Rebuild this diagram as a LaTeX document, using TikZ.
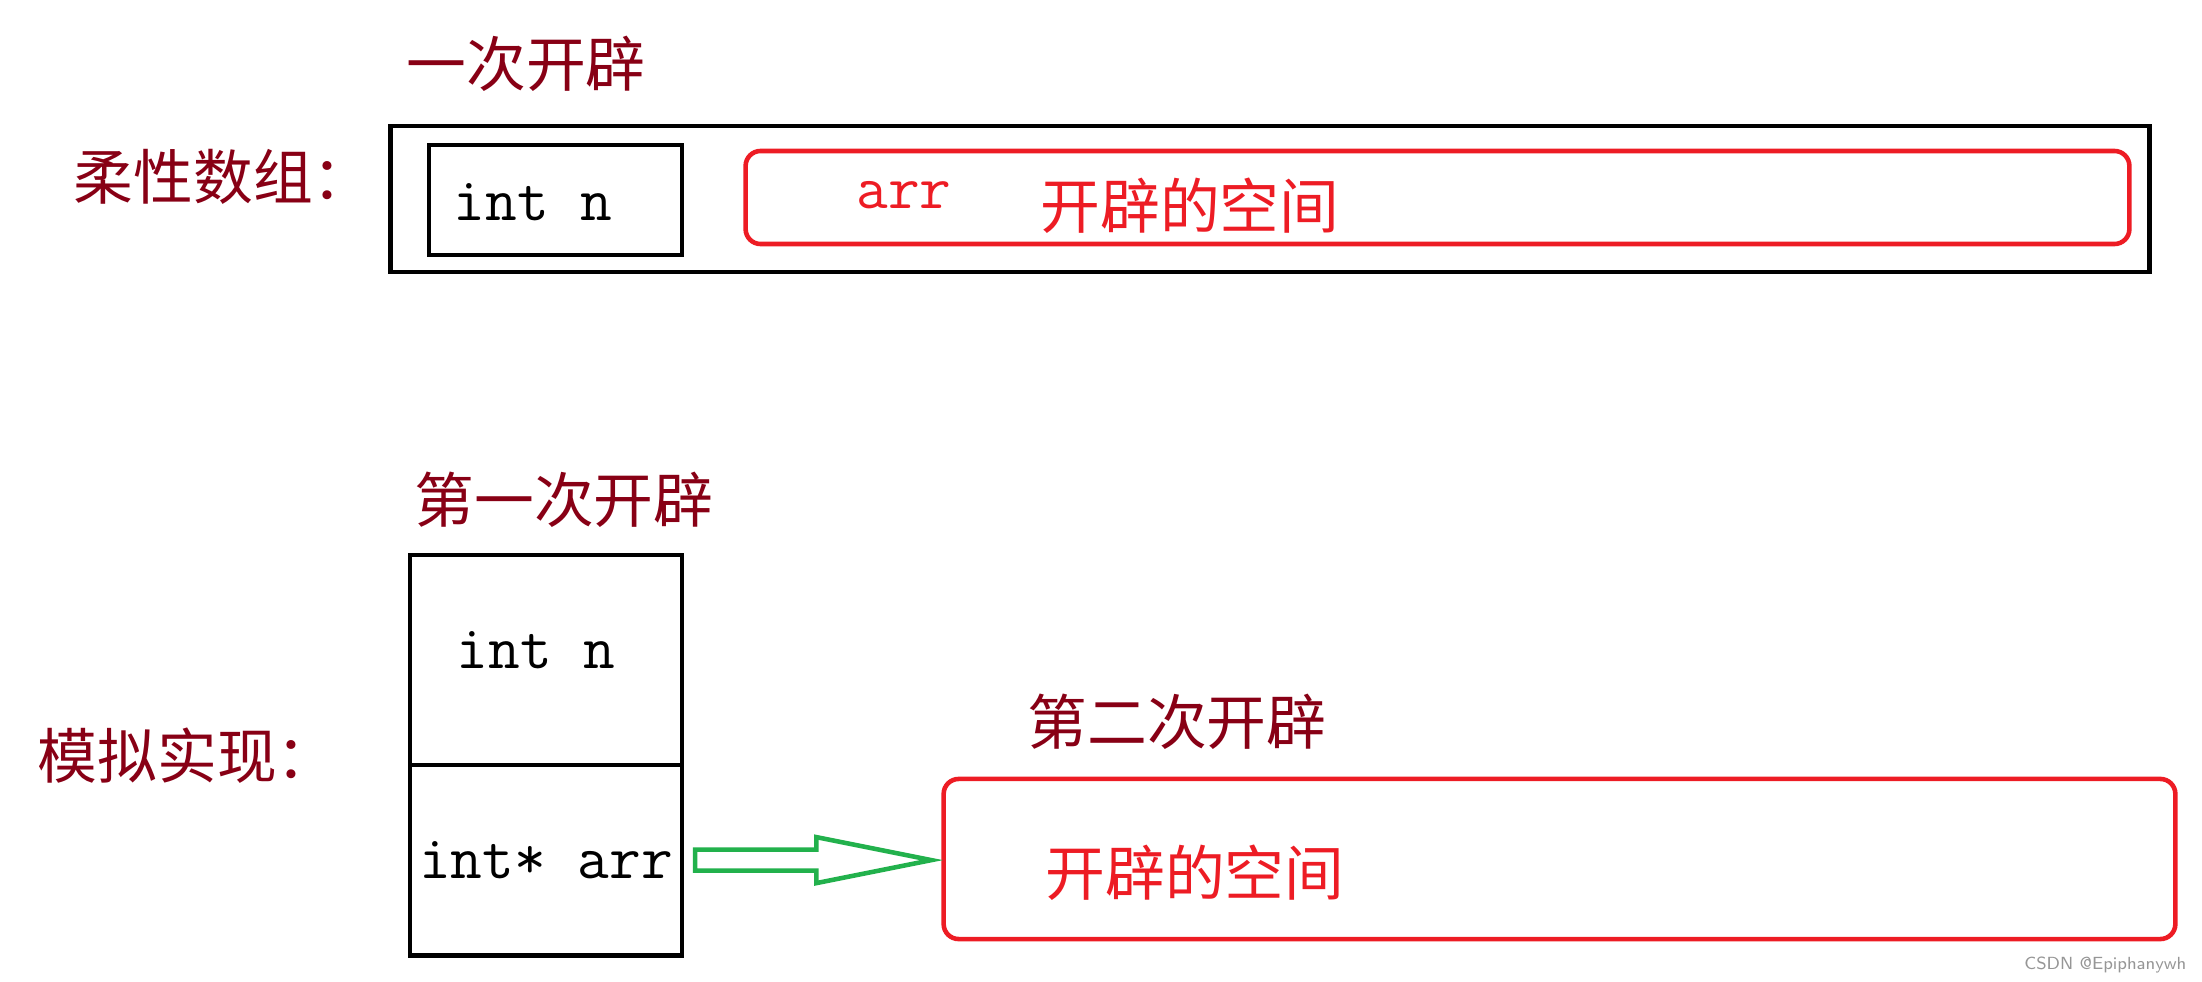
\documentclass[tikz,border=0pt]{standalone}
\usepackage{fontspec}
\newfontfamily\cjk{Noto Sans CJK SC}
\usetikzlibrary{calc,positioning}
\definecolor{paintdarkred}{RGB}{136,0,21}
\definecolor{paintred}{RGB}{237,28,36}
\definecolor{paintgreen}{RGB}{34,177,76}
\definecolor{markgray}{RGB}{150,150,150}

\begin{document}
\begin{tikzpicture}[x=0.01cm, y=-0.01cm,
  title/.style={font=\cjk\fontsize{17}{20}\selectfont, text=paintdarkred, inner sep=0pt},
  code/.style={font=\ttfamily\fontsize{17.5}{20}\selectfont, inner sep=0pt},
  cell/.style={draw, line width=1.35pt, inner sep=0pt, outer sep=0pt},
  space/.style={draw=paintred, line width=1.3pt, rounded corners=0.15cm, inner sep=0pt},
  spacetext/.style={font=\cjk\fontsize{17}{20}\selectfont, text=paintred, inner sep=0pt},
  hollowarrow/.style={draw=paintgreen, line width=1.3pt, line join=miter}]
\useasboundingbox (0,0) rectangle (2202,982);

\node[title] (once) at (526,64) {一次开辟};
\node[title, anchor=west] (flexlabel) at (73,177) {柔性数组：};
\node[cell, minimum width=17.58cm, minimum height=1.46cm] (whole) at (1270,199) {};
\node[cell, minimum width=2.53cm, minimum height=1.10cm] (n1) at (555.5,200) {};
\node[code] (n1text) at (533,202) {int n};
\node[space, minimum width=13.83cm, minimum height=0.93cm] (space1) at (1437.5,197.5) {};
\node[code, text=paintred] (arr1) at (904,195) {arr};
\node[spacetext] (space1text) at (1190,206) {开辟的空间};

\node[title] (first) at (564,500) {第一次开辟};
\node[title, anchor=west] (simlabel) at (37,756) {模拟实现：};
\node[cell, minimum width=2.72cm, minimum height=2.10cm] (n2) at (546,660) {};
\node[code] (n2text) at (536,650) {int n};
\node[cell, code, minimum width=2.72cm, minimum height=1.90cm, below=0pt of n2] (arrcell) {int* arr};
\node[title] (second) at (1177,722) {第二次开辟};
\node[space, minimum width=12.31cm, minimum height=1.60cm] (space2) at (1559.5,859) {};
\node[spacetext] (space2text) at (1195,873) {开辟的空间};

\coordinate (tail) at ($(arrcell.east)+(13,0)$);
\coordinate (tip) at ($(space2.west |- arrcell.east)+(-10,0)$);
\draw[hollowarrow] ($(tail)+(0,-10.5)$) -- ($(tip)+(-115,-10.5)$) -- ($(tip)+(-115,-23)$) -- (tip)
  -- ($(tip)+(-115,23)$) -- ($(tip)+(-115,10.5)$) -- ($(tail)+(0,10.5)$) -- cycle;

\node[font=\sffamily\fontsize{5}{6}\selectfont, text=markgray, inner sep=0pt, anchor=east] (mark) at (2187,965) {CSDN @Epiphanywh};
\end{tikzpicture}
\end{document}
